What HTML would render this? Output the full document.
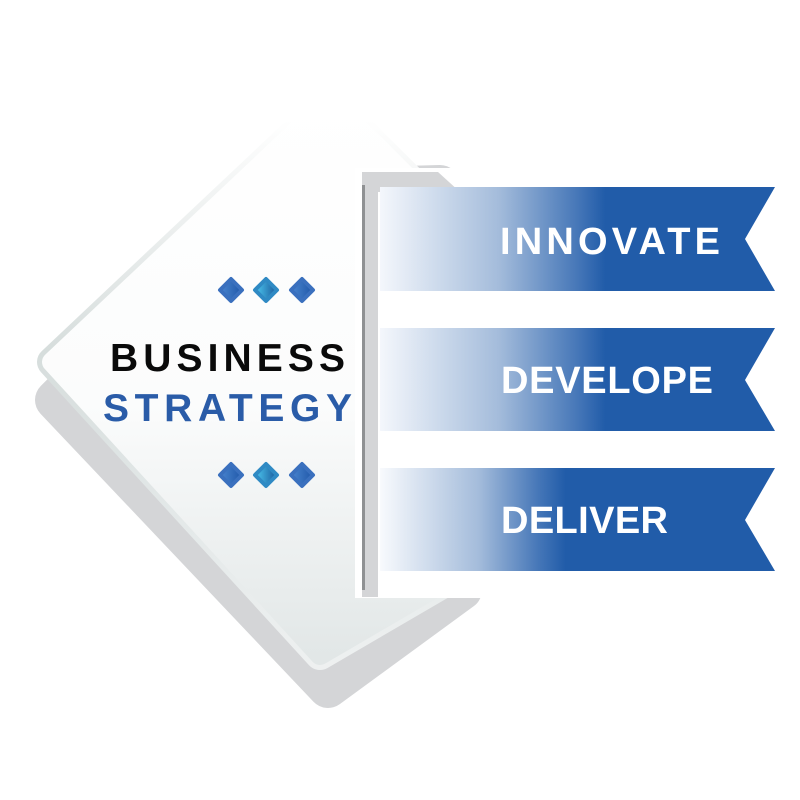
<!DOCTYPE html>
<html><head><meta charset="utf-8"><style>
html,body{margin:0;padding:0;background:#fff;}
svg{display:block;}
</style></head><body>
<svg width="800" height="800" viewBox="0 0 800 800" xmlns="http://www.w3.org/2000/svg">
<defs>
<linearGradient id="wf" x1="0" y1="0" x2="0" y2="1">
<stop offset="0" stop-color="#ffffff"/><stop offset="0.55" stop-color="#fbfcfc"/><stop offset="1" stop-color="#e2e7e7"/>
</linearGradient>
<linearGradient id="st" x1="0" y1="120" x2="0" y2="700" gradientUnits="userSpaceOnUse">
<stop offset="0" stop-color="#ffffff"/><stop offset="0.4" stop-color="#d6dddc"/><stop offset="0.7" stop-color="#e4e9e9"/><stop offset="1" stop-color="#f0f2f2"/>
</linearGradient>
<linearGradient id="r1" x1="380" y1="0" x2="775" y2="0" gradientUnits="userSpaceOnUse">
<stop offset="0" stop-color="#f4f7fc"/><stop offset="0.3" stop-color="#a4bcdb"/><stop offset="0.5" stop-color="#4677b8"/><stop offset="0.57" stop-color="#215ca9"/><stop offset="1" stop-color="#215ca9"/>
</linearGradient>
<linearGradient id="r3" x1="380" y1="0" x2="775" y2="0" gradientUnits="userSpaceOnUse">
<stop offset="0" stop-color="#f8fafd"/><stop offset="0.25" stop-color="#a4bcdb"/><stop offset="0.4" stop-color="#4677b8"/><stop offset="0.47" stop-color="#215ca9"/><stop offset="1" stop-color="#215ca9"/>
</linearGradient>
<linearGradient id="dg" x1="0" y1="0" x2="1" y2="0">
<stop offset="0" stop-color="#4a86d0"/><stop offset="1" stop-color="#1f57a8"/>
</linearGradient>
<linearGradient id="dc" x1="0" y1="0" x2="1" y2="0">
<stop offset="0" stop-color="#4cc8f0"/><stop offset="1" stop-color="#1a5a9c"/>
</linearGradient>
</defs>
<!-- shadow -->
<polygon points="55,400 265,190 440,185 462,590 328,688" fill="#d4d5d7" stroke="#d4d5d7" stroke-width="40" stroke-linejoin="round"/>
<!-- main white shape -->
<polygon points="52,362 330,100 470,240 440,585 320,655" fill="url(#wf)" stroke="url(#st)" stroke-width="30" stroke-linejoin="round"/>
<polygon points="52,362 330,100 470,240 440,585 320,655" fill="url(#wf)" stroke="url(#wf)" stroke-width="20" stroke-linejoin="round"/>
<!-- white area behind ribbons -->
<rect x="355" y="168" width="440" height="430" fill="#ffffff"/>
<polygon points="362,172 438,172 460,192 378,192" fill="#d4d5d7"/>
<rect x="362" y="172" width="16" height="425" fill="#d4d5d7"/>
<rect x="362" y="185" width="3" height="405" fill="#8f9193"/>
<!-- ribbons -->
<polygon points="380,187 775,187 745,239 775,291 380,291" fill="url(#r1)"/>
<polygon points="380,328 775,328 745,380 775,431 380,431" fill="url(#r1)"/>
<polygon points="380,468 775,468 745,520 775,571 380,571" fill="url(#r3)"/>
<g font-family="Liberation Sans, sans-serif" font-weight="bold" font-size="38" fill="#ffffff">
<text x="500" y="254" textLength="220" lengthAdjust="spacing">INNOVATE</text>
<text x="501" y="393" textLength="212" lengthAdjust="spacing">DEVELOPE</text>
<text x="501" y="533" textLength="167" lengthAdjust="spacing">DELIVER</text>
</g>
<!-- center text -->
<g font-family="Liberation Sans, sans-serif" font-weight="bold" font-size="39">
<text x="110" y="371" fill="#0a0a0a" textLength="235" lengthAdjust="spacing">BUSINESS</text>
<text x="103" y="421" fill="#2a5ca8" textLength="249" lengthAdjust="spacing">STRATEGY</text>
</g>
<!-- diamonds -->
<g stroke-linejoin="round" stroke-width="4">
<polygon points="231,279 242,290 231,301 220,290" fill="url(#dg)" stroke="#3a70be"/>
<polygon points="266,279 277,290 266,301 255,290" fill="url(#dc)" stroke="#2f8ac4"/>
<polygon points="302,279 313,290 302,301 291,290" fill="url(#dg)" stroke="#3a70be"/>
<polygon points="231,464 242,475 231,486 220,475" fill="url(#dg)" stroke="#3a70be"/>
<polygon points="266,464 277,475 266,486 255,475" fill="url(#dc)" stroke="#2f8ac4"/>
<polygon points="302,464 313,475 302,486 291,475" fill="url(#dg)" stroke="#3a70be"/>
</g>
</svg>
</body></html>
